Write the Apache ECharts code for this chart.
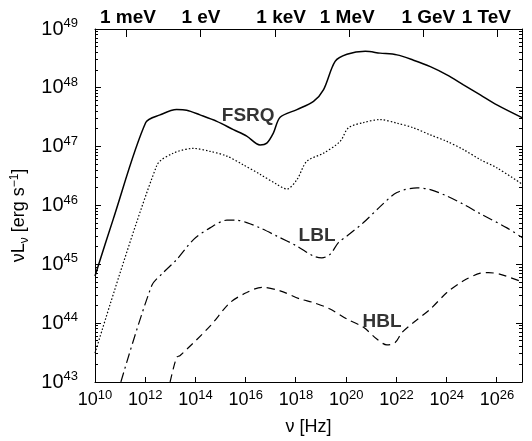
<!DOCTYPE html>
<html>
<head>
<meta charset="utf-8">
<script src="https://cdn.jsdelivr.net/npm/echarts@6/dist/echarts.min.js"></script>
<style>
html,body{margin:0;padding:0;background:#fff;}
#chart{width:532px;height:441px;}
</style>
</head>
<body>
<div id="chart"></div>
<script>
// ---- data (log10 of frequency in Hz, log10 of nuL_nu in erg/s) ----
const fsrqLogNu = [10.0, 10.72, 12.02, 12.59, 13.25, 13.65, 14.18, 14.85, 15.51, 16.04, 16.57, 16.84, 17.10, 17.37, 18.04, 18.70, 19.10, 19.56, 20.03, 20.76, 21.35, 22.02, 22.68, 23.35, 24.01, 24.67, 25.34, 26.00, 27.02];
const fsrqLogL  = [44.80, 45.76, 47.41, 47.54, 47.63, 47.62, 47.54, 47.43, 47.29, 47.18, 47.03, 47.06, 47.23, 47.50, 47.63, 47.77, 47.97, 48.45, 48.57, 48.62, 48.59, 48.56, 48.47, 48.36, 48.22, 48.05, 47.88, 47.71, 47.49];

const midLogNu = [10.0, 12.46, 13.12, 13.92, 14.58, 15.25, 15.91, 16.57, 17.24, 17.64, 18.04, 18.43, 19.10, 19.76, 20.09, 20.69, 21.35, 22.02, 22.68, 23.35, 24.01, 24.67, 25.34, 26.00, 27.02];
const midLogL  = [43.49, 46.68, 46.89, 46.97, 46.92, 46.84, 46.69, 46.53, 46.36, 46.28, 46.44, 46.75, 46.89, 47.09, 47.32, 47.41, 47.46, 47.40, 47.32, 47.20, 47.09, 46.95, 46.78, 46.64, 46.36];

const lblLogNu = [11.03, 12.26, 12.72, 13.25, 13.92, 14.58, 15.25, 15.65, 16.04, 16.57, 17.24, 18.04, 18.70, 19.03, 19.36, 19.69, 20.03, 20.69, 21.35, 22.02, 22.82, 23.35, 24.01, 24.67, 25.34, 26.40, 27.02];
const lblLogL  = [43.00, 44.64, 44.86, 45.08, 45.42, 45.62, 45.75, 45.75, 45.71, 45.62, 45.48, 45.31, 45.14, 45.11, 45.17, 45.37, 45.48, 45.71, 45.98, 46.22, 46.30, 46.27, 46.16, 46.02, 45.86, 45.62, 45.45];

const hblLogNu = [12.99, 13.25, 13.39, 14.58, 15.38, 16.04, 16.64, 17.37, 18.17, 18.70, 19.36, 20.03, 20.69, 21.22, 21.62, 21.95, 22.22, 22.68, 23.35, 24.01, 24.67, 25.34, 25.67, 26.14, 27.02];
const hblLogL  = [43.00, 43.42, 43.45, 43.95, 44.35, 44.52, 44.61, 44.55, 44.41, 44.35, 44.24, 44.07, 43.93, 43.73, 43.63, 43.67, 43.84, 44.01, 44.24, 44.52, 44.72, 44.85, 44.86, 44.83, 44.70];

const curveNames = ['FSRQ', 'LBL', 'HBL'];
const curveLabelLogNu = [16.10, 18.84, 21.43];
const curveLabelLogL  = [47.53, 45.49, 44.02];

const xTickExp = [10, 12, 14, 16, 18, 20, 22, 24, 26];
const yTickExp = [43, 44, 45, 46, 47, 48, 49];
const energyLabels = ['1 meV', '1 eV', '1 keV', '1 MeV', '1 GeV', '1 TeV'];
const energyTickLogNu = [11.26, 14.22, 17.18, 20.13, 23.08, 26.04];

// ---- layout ----
const X_MIN = 10, X_MAX = 27, Y_MIN = 43, Y_MAX = 49;
const energyLabelLogNu = [11.31, 14.22, 17.41, 20.04, 23.27, 25.58];
const FONT = '"Liberation Sans", Arial, sans-serif';
const MAJOR_LEN = 6, MINOR_LEN = 3, X_TICK_LEN = 5, E_TICK_LEN = 8;

const yMinor = [];
for (let n = Y_MIN; n < Y_MAX; n++) for (let k = 2; k <= 9; k++) yMinor.push(n + Math.log10(k));

// tick marks: [x, y, dxPx, dyPx]
const tickMarks = [];
yTickExp.forEach(v => { tickMarks.push([X_MIN, v, MAJOR_LEN, 0]); tickMarks.push([X_MAX, v, -MAJOR_LEN, 0]); });
yMinor.forEach(v => { tickMarks.push([X_MIN, v, MINOR_LEN, 0]); tickMarks.push([X_MAX, v, -MINOR_LEN, 0]); });
energyTickLogNu.forEach(v => { tickMarks.push([v, Y_MAX, 0, E_TICK_LEN]); });
xTickExp.slice(1).forEach(v => { tickMarks.push([v, Y_MIN, 0, -X_TICK_LEN]); });

function zip(a, b) { return a.map((v, i) => [v, b[i]]); }

function makeRich(base, sup) {
  return {
    b: { fontSize: base, fontFamily: FONT, color: '#000', lineHeight: base + 4 },
    s: { fontSize: sup, fontFamily: FONT, color: '#000', verticalAlign: 'top', lineHeight: base + 4, padding: [0, 0, 8, 0] }
  };
}
function powLabel(v) { return '{b|10}{s|' + Math.round(v) + '}'; }

const baseAxisX = { type: 'value', min: X_MIN, max: X_MAX, splitLine: { show: false }, axisTick: { show: false } };
const baseAxisY = { type: 'value', min: Y_MIN, max: Y_MAX, splitLine: { show: false }, axisTick: { show: false } };
const lineStyleAxis = { color: '#000', width: 1 };

const chart = echarts.init(document.getElementById('chart'), null, { renderer: 'canvas' });
chart.setOption({
  backgroundColor: '#fff',
  animation: false,
  grid: { left: 95, right: 10, top: 29, bottom: 58, containLabel: false },
  xAxis: [
    Object.assign({}, baseAxisX, {
      position: 'bottom',
      name: '{a|ν [Hz]}', nameLocation: 'middle', nameGap: 36,
      nameTextStyle: { rich: { a: { fontSize: 18, fontFamily: FONT, color: '#000' } } },
      axisLine: { show: true, onZero: false, lineStyle: lineStyleAxis },
      axisLabel: { show: true, customValues: xTickExp, margin: 7, formatter: powLabel, rich: makeRich(18, 13) }
    }),
    Object.assign({}, baseAxisX, {
      position: 'top',
      axisLine: { show: true, onZero: false, lineStyle: lineStyleAxis },
      axisLabel: {
        show: true, customValues: energyLabelLogNu, margin: 2,
        fontSize: 19, fontWeight: 'bold', fontFamily: FONT, color: '#000',
        formatter: function (v) {
          let best = 0;
          energyLabelLogNu.forEach((p, i) => { if (Math.abs(p - v) < Math.abs(energyLabelLogNu[best] - v)) best = i; });
          return energyLabels[best];
        }
      }
    })
  ],
  yAxis: [
    Object.assign({}, baseAxisY, {
      position: 'left',
      name: '{a|νL}{sub|ν}{a| [erg s}{sup|−1}{a|]}', nameLocation: 'middle', nameGap: 61, nameRotate: 90,
      nameTextStyle: { padding: [0, 20, 0, 0], rich: {
        a: { fontSize: 18, fontFamily: FONT, color: '#000', lineHeight: 22 },
        sub: { fontSize: 12, fontFamily: FONT, color: '#000', verticalAlign: 'bottom', lineHeight: 22, padding: [6, 0, 0, 0] },
        sup: { fontSize: 12, fontFamily: FONT, color: '#000', verticalAlign: 'top', lineHeight: 22, padding: [0, 0, 8, 0] }
      } },
      axisLine: { show: true, onZero: false, lineStyle: lineStyleAxis },
      axisLabel: { show: true, customValues: yTickExp, margin: 17, formatter: powLabel, rich: makeRich(20, 13) }
    }),
    Object.assign({}, baseAxisY, {
      position: 'right',
      axisLine: { show: true, onZero: false, lineStyle: lineStyleAxis },
      axisLabel: { show: false }
    })
  ],
  series: [
    { type: 'line', data: zip(fsrqLogNu, fsrqLogL), smooth: 0.3, symbol: 'none', clip: true,
      lineStyle: { color: '#000', width: 1.5, type: 'solid' } },
    { type: 'line', data: zip(midLogNu, midLogL), smooth: 0.3, symbol: 'none', clip: true,
      lineStyle: { color: '#000', width: 1.2, type: [1.5, 2] } },
    { type: 'line', data: zip(lblLogNu, lblLogL), smooth: 0.3, symbol: 'none', clip: true,
      lineStyle: { color: '#000', width: 1.2, type: [10, 4, 2, 4] } },
    { type: 'line', data: zip(hblLogNu, hblLogL), smooth: 0.3, symbol: 'none', clip: true,
      lineStyle: { color: '#000', width: 1.2, type: [8, 5] } },
    { type: 'scatter', symbolSize: 0, silent: true,
      data: curveNames.map((n, i) => ({ name: n, value: [curveLabelLogNu[i], curveLabelLogL[i]] })),
      label: { show: true, position: 'inside', formatter: '{b}', fontSize: 19, fontWeight: 'bold', fontFamily: FONT, color: '#000' } }
  ]
});

// tick marks placed through the axes' own scales
const tickElements = tickMarks.map(t => {
  const p = chart.convertToPixel({ xAxisIndex: 0, yAxisIndex: 0 }, [t[0], t[1]]);
  const dx = t[2], dy = t[3];
  let shape;
  if (dx !== 0) {
    shape = { x: Math.round(Math.min(p[0], p[0] + dx)), y: Math.floor(p[1]), width: Math.abs(dx), height: 1 };
  } else {
    shape = { x: Math.floor(p[0]), y: Math.round(Math.min(p[1], p[1] + dy)), width: 1, height: Math.abs(dy) };
  }
  return { type: 'rect', silent: true, z: 100, shape: shape, style: { fill: '#000' } };
});
chart.setOption({ graphic: { elements: tickElements } });
</script>
</body>
</html>
